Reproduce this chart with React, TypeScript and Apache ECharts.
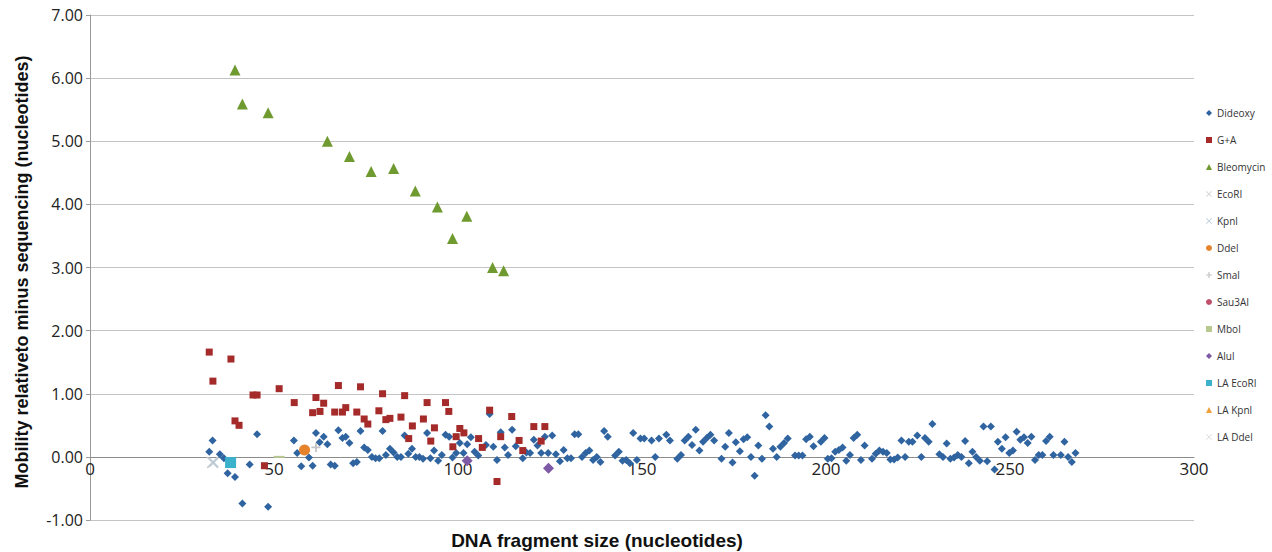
import React, { useEffect, useRef } from "react";
import * as echarts from "echarts";

const xTicks = [0, 50, 100, 150, 200, 250, 300];
const yTicks = [-1, 0, 1, 2, 3, 4, 5, 6, 7];

const dideoxy: number[][] = [
  [32.4, 0.08], [33.3, 0.26], [35.3, 0.04], [36.4, -0.02], [37.4, -0.26], [39.4, -0.32], [41.4, -0.74], [43.4, -0.12],
  [45.4, 0.36], [48.4, -0.79], [55.4, 0.26], [56.3, 0.06], [57.4, -0.15], [59.5, -0.01], [60.5, -0.14], [61.4, 0.38],
  [62.4, 0.23], [63.5, 0.32], [64.5, 0.2], [65.4, -0.12], [66.5, -0.14], [67.5, 0.42], [68.6, 0.3], [69.5, 0.32],
  [70.5, 0.22], [71.5, -0.1], [72.5, -0.08], [73.5, 0.41], [74.5, 0.15], [75.5, 0.11], [76.6, 0.0],
  [77.6, -0.02], [78.6, -0.02], [79.5, 0.41], [80.4, 0.03], [81.5, 0.13], [82.5, 0.07], [83.5, 0.0], [84.5, 0.0],
  [85.5, 0.34], [86.5, 0.05], [87.5, 0.13], [88.5, 0.0], [89.5, 0.0], [90.5, -0.03], [91.6, 0.38], [92.5, -0.02],
  [93.5, 0.1], [94.6, -0.06], [95.6, 0.03], [96.6, 0.35], [97.6, 0.32], [98.5, -0.01], [99.5, 0.06], [100.5, 0.22],
  [101.5, 0.06], [102.5, 0.2], [103.5, 0.31], [104.5, 0.08], [105.5, 0.02], [107.6, 0.19], [108.6, 0.68], [109.6, 0.16],
  [110.6, -0.05], [111.6, 0.39], [112.7, 0.15], [113.6, 0.03], [114.7, 0.43], [115.7, 0.17], [117.6, -0.02], [118.6, 0.07],
  [119.6, 0.06], [120.6, 0.27], [121.6, 0.18], [122.6, 0.06], [123.6, 0.32], [124.5, 0.06], [125.6, 0.34],
  [126.6, 0.04], [127.7, -0.07], [128.7, 0.11], [129.7, -0.02], [130.7, -0.02], [131.7, 0.36], [132.7, 0.36], [133.7, 0.0],
  [134.7, 0.06], [135.7, 0.1], [136.7, -0.05], [137.7, 0.0], [138.7, -0.08], [139.7, 0.41], [140.7, 0.32], [142.7, 0.02],
  [143.7, 0.08], [144.7, -0.06], [145.7, -0.05], [146.7, -0.1], [147.6, 0.38], [148.6, -0.05], [149.6, 0.29], [150.6, 0.29],
  [152.6, 0.26], [153.6, 0.0], [154.6, 0.29], [156.6, 0.35], [157.6, 0.26], [159.6, -0.03], [160.6, 0.03], [161.6, 0.26],
  [162.6, 0.32], [163.6, 0.19], [164.6, 0.43], [165.6, 0.1], [166.6, 0.24], [167.6, 0.3], [168.6, 0.35], [169.6, 0.26],
  [171.6, -0.03], [172.6, 0.16], [173.6, 0.38],
  [174.6, -0.09], [175.5, 0.23], [176.6, 0.09], [177.6, 0.28], [178.6, 0.31], [179.6, 0.0], [180.6, -0.3], [181.6, 0.18],
  [182.6, -0.03], [183.6, 0.66], [184.6, 0.48], [185.6, 0.13], [186.6, 0.0], [187.6, 0.16], [188.6, 0.22], [189.6, 0.29],
  [191.6, 0.02], [192.6, 0.02], [193.6, 0.02], [194.6, 0.28], [195.6, 0.32], [196.6, 0.17], [198.6, 0.24], [199.6, 0.3],
  [200.5, -0.03], [201.5, -0.02], [202.5, 0.08], [203.5, 0.11], [204.5, 0.15], [205.5, -0.06], [206.5, 0.03], [207.5, 0.3],
  [208.5, 0.35], [209.5, -0.05], [210.5, 0.18], [212.5, -0.03], [213.5, 0.05], [214.5, 0.1], [215.5, 0.08], [216.5, 0.06],
  [217.5, -0.04], [218.5, -0.04], [219.5, -0.01], [220.5, 0.26], [221.5, 0.0], [222.5, 0.24], [223.5, 0.24],
  [224.8, 0.34], [225.9, 0.0], [226.9, 0.3], [227.9, 0.24], [228.9, 0.52], [230.8, 0.04], [231.8, 0.0], [232.8, 0.21],
  [233.8, -0.03], [234.8, -0.01], [235.8, 0.03], [236.8, 0.0], [237.8, 0.25], [238.8, -0.1], [239.8, 0.08], [240.8, 0.0],
  [241.8, -0.06], [242.8, 0.48], [243.8, -0.07], [244.8, 0.48], [245.8, -0.2], [246.7, 0.24], [247.8, 0.13], [248.8, 0.31],
  [249.8, 0.06], [250.8, 0.1], [251.8, 0.4], [252.8, 0.27], [253.8, 0.31], [254.8, 0.22], [255.8, 0.32], [256.8, -0.05],
  [257.8, 0.03], [258.8, 0.03], [259.8, 0.25], [260.8, 0.32], [261.8, 0.03], [263.8, 0.03], [264.8, 0.24], [265.8, 0.0],
  [266.8, -0.08], [267.8, 0.06],
];

const gPlusA: number[][] = [
  [32.4, 1.66], [33.4, 1.2], [38.3, 1.55], [39.4, 0.57], [40.5, 0.5], [44.3, 0.98], [45.4, 0.98], [47.4, -0.14],
  [51.4, 1.08], [55.5, 0.86], [60.5, 0.7], [61.4, 0.94], [62.5, 0.72], [63.5, 0.85], [66.5, 0.71], [67.5, 1.13],
  [68.6, 0.71], [69.5, 0.78], [72.5, 0.71], [73.5, 1.11], [74.5, 0.6], [75.5, 0.52], [78.5, 0.73], [79.5, 1.0],
  [80.4, 0.59], [81.5, 0.61], [84.5, 0.63], [85.5, 0.97], [86.6, 0.29], [87.6, 0.49], [90.6, 0.6], [91.6, 0.86],
  [92.6, 0.25], [93.6, 0.46], [96.6, 0.86], [97.5, 0.72], [98.6, 0.16], [99.5, 0.32], [100.5, 0.45], [101.6, 0.38],
  [105.6, 0.29], [106.6, 0.15], [108.6, 0.74], [110.6, -0.39], [111.6, 0.32], [114.6, 0.64], [116.6, 0.26], [117.6, 0.1],
  [120.6, 0.48], [122.6, 0.25], [123.6, 0.48],
];

const bleomycin: number[][] = [
  [39.4, 6.13], [41.4, 5.59], [48.4, 5.45], [64.5, 5.0], [70.5, 4.76], [76.4, 4.52], [82.5, 4.57],
  [88.4, 4.21], [94.4, 3.96], [98.5, 3.46], [102.4, 3.81], [109.4, 3.0], [112.4, 2.95],
];

const ecoRI: number[][] = [[33.3, -0.09]];
const kpnI: number[][] = [[33.6, -0.09]];
const ddeI: number[][] = [[58.3, 0.11]];
const smaI: number[][] = [[61.4, 0.15]];
const sau3AI: number[][] = [];
const mboI: number[][] = [[51.4, 0.0]];
const aluI: number[][] = [[102.5, -0.06], [124.6, -0.18]];
const laEcoRI: number[][] = [[38.2, -0.09]];
const laKpnI: number[][] = [];
const laDdeI: number[][] = [];

const X_PATH = "path://M0,1L1,0L5,4L9,0L10,1L6,5L10,9L9,10L5,6L1,10L0,9L4,5Z";
const PLUS_PATH = "path://M4,0H6V4H10V6H6V10H4V6H0V4H4Z";

const seriesDefs = [
  { name: "Dideoxy", data: dideoxy, symbol: "diamond", size: 8, color: "#2f64a0" },
  { name: "G+A", data: gPlusA, symbol: "rect", size: 7, color: "#a52a2a" },
  { name: "Bleomycin", data: bleomycin, symbol: "triangle", size: 11, color: "#6f9a2f" },
  { name: "EcoRI", data: ecoRI, symbol: X_PATH, size: 12, color: "#cfcfcf" },
  { name: "KpnI", data: kpnI, symbol: X_PATH, size: 10, color: "#b9cad8" },
  { name: "DdeI", data: ddeI, symbol: "circle", size: 11, color: "#e5822b" },
  { name: "SmaI", data: smaI, symbol: PLUS_PATH, size: 9, color: "#c4c4c4" },
  { name: "Sau3AI", data: sau3AI, symbol: "circle", size: 4, color: "#c0506a" },
  { name: "MboI", data: mboI, symbol: "rect", size: [11, 2], color: "#b7c98f" },
  { name: "AluI", data: aluI, symbol: "diamond", size: 11, color: "#7e59a5" },
  { name: "LA EcoRI", data: laEcoRI, symbol: "rect", size: 11, color: "#3bb1cc" },
  { name: "LA KpnI", data: laKpnI, symbol: "triangle", size: 8, color: "#f2a13a" },
  { name: "LA DdeI", data: laDdeI, symbol: X_PATH, size: 10, color: "#dcdcdc" },
];

const legendLabels: Record<string, string> = {
  "KpnI": "Kpnl", "DdeI": "Ddel", "SmaI": "Smal", "MboI": "Mbol", "AluI": "Alul",
  "EcoRI": "EcoRI", "LA DdeI": "LA Ddel", "LA KpnI": "LA Kpnl",
};

const GRID_TOP = 15;
const GRID_BOTTOM = 32;
const CHART_H = 552;

export default function App() {
  const ref = useRef<HTMLDivElement>(null);
  useEffect(() => {
    if (!ref.current) return;
    const chart = echarts.init(ref.current, undefined, { renderer: "svg" });
    const yMin = yTicks[0];
    const yMax = yTicks[yTicks.length - 1];
    const plotH = CHART_H - GRID_TOP - GRID_BOTTOM;
    const zeroOffset = -((0 - yMin) / (yMax - yMin)) * plotH;
    chart.setOption({
      animation: false,
      backgroundColor: "#ffffff",
      grid: { left: 90, right: 78, top: GRID_TOP, bottom: GRID_BOTTOM, containLabel: false },
      legend: {
        orient: "vertical",
        left: 1201,
        top: 103,
        itemWidth: 6,
        itemHeight: 6,
        itemGap: 17,
        textStyle: { fontSize: 10, color: "#333", fontFamily: "Open Sans" },
        formatter: (n: string) => legendLabels[n] || n,
        data: seriesDefs.map((s) => ({ name: s.name, icon: s.symbol })),
      },
      xAxis: {
        type: "value",
        min: xTicks[0],
        max: xTicks[xTicks.length - 1],
        interval: 50,
        offset: zeroOffset,
        axisLine: { show: true, onZero: false, lineStyle: { color: "#8c8c8c", width: 1 } },
        axisTick: { show: false },
        splitLine: { show: false },
        axisLabel: { fontSize: 17, color: "#222", margin: 3, fontFamily: "Open Sans" },
      },
      yAxis: {
        type: "value",
        min: yMin,
        max: yMax,
        interval: 1,
        axisLine: { show: true, lineStyle: { color: "#9a9a9a" } },
        axisTick: { show: true, length: 4, lineStyle: { color: "#9a9a9a" } },
        splitLine: { show: true, lineStyle: { color: "#c4c4c4", width: 1 } },
        axisLabel: {
          fontSize: 16,
          color: "#222",
          margin: 7,
          fontFamily: "Open Sans",
          formatter: (v: number) => v.toFixed(2),
        },
      },
      graphic: [
        {
          type: "text",
          rotation: Math.PI / 2,
          x: 22,
          y: 272,
          style: {
            text: "Mobility relativeto minus sequencing (nucleotides)",
            fontSize: 18,
            fontWeight: "bold",
            fontFamily: "Liberation Sans",
            fill: "#111",
            textAlign: "center",
            textVerticalAlign: "middle",
          },
        },
        {
          type: "text",
          x: 597,
          y: 540,
          style: {
            text: "DNA fragment size (nucleotides)",
            fontSize: 19,
            fontWeight: "bold",
            fontFamily: "Liberation Sans",
            fill: "#111",
            textAlign: "center",
            textVerticalAlign: "middle",
          },
        },
      ],
      series: seriesDefs.map((s) => ({
        name: s.name,
        type: "scatter",
        data: s.data,
        symbol: s.symbol,
        symbolSize: s.size,
        itemStyle: { color: s.color, opacity: 1 },
        emphasis: { disabled: true },
      })),
    });
    return () => chart.dispose();
  }, []);
  return (
    <div
      ref={ref}
      style={{ position: "fixed", left: 0, top: 0, width: 1272, height: 552 }}
    />
  );
}
